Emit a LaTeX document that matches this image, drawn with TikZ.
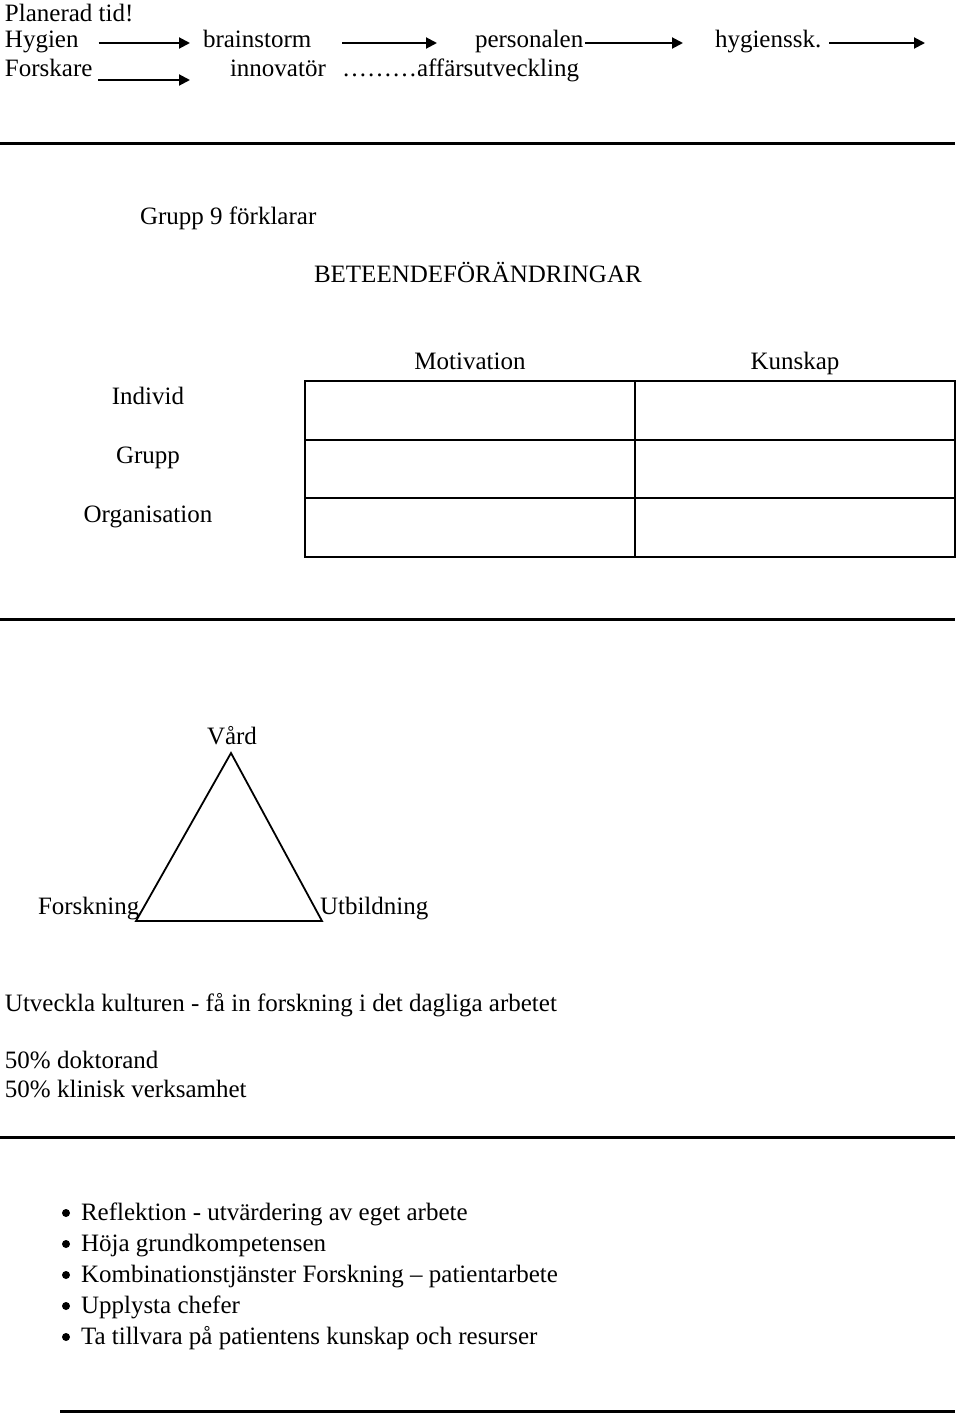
\documentclass[tikz,border=0pt]{standalone}
\usepackage{fontspec}
\setmainfont{Liberation Serif}
\usetikzlibrary{arrows.meta,calc}
\begin{document}
\begin{tikzpicture}[x=1pt,y=-1pt,
  txt/.style={inner sep=0pt,outer sep=0pt,font=\fontsize{25}{30}\selectfont},
  lft/.style={txt,anchor=base west},
  ctr/.style={txt,anchor=base},
  arr/.style={line width=2pt,-{Triangle[length=11pt,width=11pt]}},
  rule/.style={line width=3pt},
  grid/.style={line width=1.4pt},
  tri/.style={line width=1.8pt}]
\useasboundingbox (0,0) rectangle (960,1414);
% top rows
\node[lft] (plan) at (5,21) {Planerad tid!};
\node[lft] (hyg) at (5,47) {Hygien};
\node[lft] (brain) at (203,47) {brainstorm};
\node[lft] (pers) at (475,47) {personalen};
\node[lft] (hsk) at (715,47) {hygienssk.};
\coordinate (hskend) at (925,43);
\node[lft] (forsk) at (5,76) {Forskare};
\node[lft] (innov) at (230,76) {innovatör};
\node[lft] (aff) at (342,76) {………affärsutveckling};
\coordinate (fend) at (190,80);
\draw[arr] ($(hyg.base east)+(20,-4)$) -- ($(brain.base west)+(-13,-4)$);
\draw[arr] ($(brain.base east)+(31,-4)$) -- ($(pers.base west)+(-38,-4)$);
\draw[arr] ($(pers.base east)+(2,-4)$) -- ($(hsk.base west)+(-32,-4)$);
\draw[arr] ($(hsk.base east)+(8,-4)$) -- (hskend);
\draw[arr] ($(forsk.base east)+(6,4)$) -- (fend);
% rule 1
\coordinate (r1a) at (0,143); \coordinate (r1b) at (955,143);
\draw[rule] (r1a) -- (r1b);
% section 2
\node[lft] (g9) at (140,224) {Grupp 9 förklarar};
\node[lft] (bet) at (314,282) {BETEENDEFÖRÄNDRINGAR};
\node[ctr] (mot) at (470,369) {Motivation};
\node[ctr] (kun) at (795,369) {Kunskap};
\node[ctr] (ind) at (148,404) {Individ};
\node[ctr] (grp) at (148,463) {Grupp};
\node[ctr] (org) at (148,522) {Organisation};
\coordinate (tl) at (305,381); \coordinate (br) at (955,557);
\draw[grid] (tl) rectangle (br);
\draw[grid] (635,381) -- (635,557);
\draw[grid] (305,440) -- (955,440);
\draw[grid] (305,498) -- (955,498);
% rule 2
\coordinate (r2a) at (0,619); \coordinate (r2b) at (955,619);
\draw[rule] (r2a) -- (r2b);
% triangle
\node[ctr] (vard) at (232,744) {Vård};
\node[lft] (fn) at (38,914) {Forskning};
\node[lft] (ut) at (320,914) {Utbildning};
\coordinate (ta) at (231,753);
\coordinate (tb) at (136,921);
\coordinate (tc) at (322,921);
\draw[tri,line join=miter] (ta) -- (tb) -- (tc) -- cycle;
\node[lft] (utv) at (5,1011) {Utveckla kulturen - få in forskning i det dagliga arbetet};
\node[lft] (d1) at (5,1068) {50\% doktorand};
\node[lft] (d2) at (5,1097) {50\% klinisk verksamhet};
% rule 3
\coordinate (r3a) at (0,1137); \coordinate (r3b) at (955,1137);
\draw[rule] (r3a) -- (r3b);
% bullets
\foreach \y/\t [count=\i] in {1220/{Reflektion - utvärdering av eget arbete},1251/{Höja grundkompetensen},1282/{Kombinationstjänster Forskning – patientarbete},1313/{Upplysta chefer},1344/{Ta tillvara på patientens kunskap och resurser}}{
  \fill (66,\y-7) circle (4);
  \node[lft] (b\i) at (81,\y) {\t};
}
% rule 4
\coordinate (r4a) at (60,1411); \coordinate (r4b) at (955,1411);
\draw[rule] (r4a) -- (r4b);
\end{tikzpicture}
\end{document}
